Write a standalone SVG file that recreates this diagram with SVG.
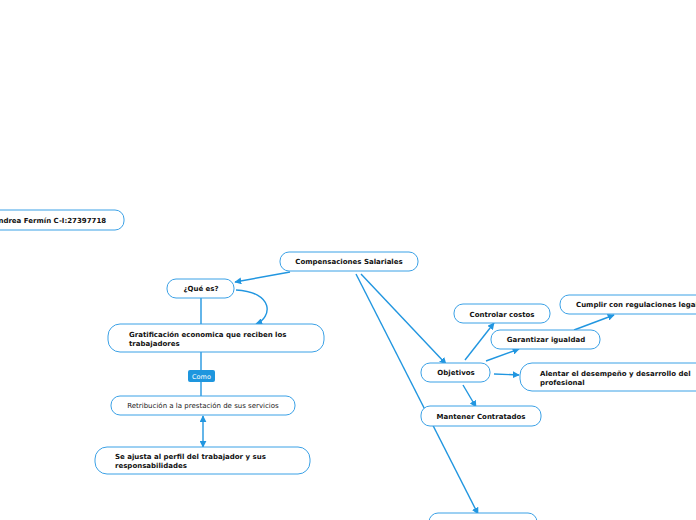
<svg xmlns="http://www.w3.org/2000/svg" width="696" height="520" viewBox="0 0 696 520">
<defs>
<marker id="ah" viewBox="0 0 10 10" refX="9" refY="5" markerWidth="7" markerHeight="7" orient="auto-start-reverse" markerUnits="userSpaceOnUse">
<path d="M0,0 L10,5 L0,10 z" fill="#2196e0"/>
</marker>
<style>
.n{fill:#fff;stroke:#3ba1e6;stroke-width:1}
.t{font-family:"DejaVu Sans",Verdana,sans-serif;font-size:7px;font-weight:bold;fill:#111}
.r{font-family:"DejaVu Sans",Verdana,sans-serif;font-size:7px;fill:#222}
.c{fill:none;stroke:#2196e0;stroke-width:1.4}
</style>
</defs>
<rect width="696" height="520" fill="#fff"/>
<g id="connectors">
<line class="c" x1="290" y1="272" x2="235" y2="282" marker-end="url(#ah)"/>
<line class="c" x1="201" y1="298" x2="201" y2="324"/>
<path class="c" d="M236,290 C275,292 272,318 256,324" marker-end="url(#ah)"/>
<line class="c" x1="201" y1="352" x2="201" y2="396"/>
<line class="c" x1="203" y1="416" x2="203" y2="447" marker-start="url(#ah)" marker-end="url(#ah)"/>
<line class="c" x1="361" y1="274" x2="446" y2="364" marker-end="url(#ah)"/>
<line class="c" x1="356" y1="274" x2="478" y2="514" marker-end="url(#ah)"/>
<line class="c" x1="465" y1="360" x2="494" y2="323" marker-end="url(#ah)"/>
<line class="c" x1="486" y1="361" x2="519" y2="349" marker-end="url(#ah)"/>
<line class="c" x1="574" y1="330" x2="614" y2="315" marker-end="url(#ah)"/>
<line class="c" x1="494" y1="374" x2="519" y2="375" marker-end="url(#ah)"/>
<line class="c" x1="463" y1="385" x2="476" y2="407" marker-end="url(#ah)"/>
</g>
<g id="andrea">
<rect class="n" x="-12" y="210" width="136" height="20" rx="9"/>
<text class="t" x="-7" y="222.5">Andrea Fermín C-I:27397718</text>
</g>
<g id="compensaciones">
<rect class="n" x="280" y="252" width="138" height="19" rx="9"/>
<text class="t" x="349" y="264" text-anchor="middle">Compensaciones Salariales</text>
</g>
<g id="que-es">
<rect class="n" x="167" y="279" width="67" height="19" rx="9"/>
<text class="t" x="201" y="291" text-anchor="middle">¿Qué es?</text>
</g>
<g id="gratificacion">
<rect class="n" x="108" y="324" width="216" height="28" rx="12"/>
<text class="t" x="129" y="337">Gratificación economica que reciben los</text>
<text class="t" x="129" y="346">trabajadores</text>
</g>
<g id="como">
<rect x="188" y="370" width="27" height="12" rx="2" fill="#1e96de"/>
<text x="201.5" y="379" text-anchor="middle" font-family="DejaVu Sans,Verdana,sans-serif" font-size="6.5" fill="#fff">Como</text>
</g>
<g id="retribucion">
<rect class="n" x="111" y="396" width="184" height="19" rx="9"/>
<text class="r" x="203" y="408" text-anchor="middle">Retribución a la prestación de sus servicios</text>
</g>
<g id="se-ajusta">
<rect class="n" x="95" y="447" width="215" height="27" rx="12"/>
<text class="t" x="115" y="459">Se ajusta al perfil del trabajador y sus</text>
<text class="t" x="115" y="468">responsabilidades</text>
</g>
<g id="objetivos">
<rect class="n" x="421" y="363" width="69" height="19" rx="9"/>
<text class="t" x="456" y="375" text-anchor="middle">Objetivos</text>
</g>
<g id="controlar">
<rect class="n" x="454" y="304" width="96" height="19" rx="9"/>
<text class="t" x="502" y="316.5" text-anchor="middle">Controlar costos</text>
</g>
<g id="garantizar">
<rect class="n" x="491" y="330" width="109" height="19" rx="9"/>
<text class="t" x="546" y="342" text-anchor="middle">Garantizar igualdad</text>
</g>
<g id="cumplir">
<rect class="n" x="560" y="295" width="150" height="19" rx="9"/>
<text class="t" x="576" y="307">Cumplir con regulaciones legales</text>
</g>
<g id="alentar">
<rect class="n" x="520" y="363" width="190" height="28" rx="12"/>
<text class="t" x="540" y="375.5">Alentar el desempeño y desarrollo del</text>
<text class="t" x="540" y="384.5">profesional</text>
</g>
<g id="mantener">
<rect class="n" x="421" y="406" width="120" height="20" rx="9"/>
<text class="t" x="481" y="418.5" text-anchor="middle">Mantener Contratados</text>
</g>
<g id="bottom">
<rect class="n" x="429" y="513" width="108" height="20" rx="9"/>
</g>
</svg>
